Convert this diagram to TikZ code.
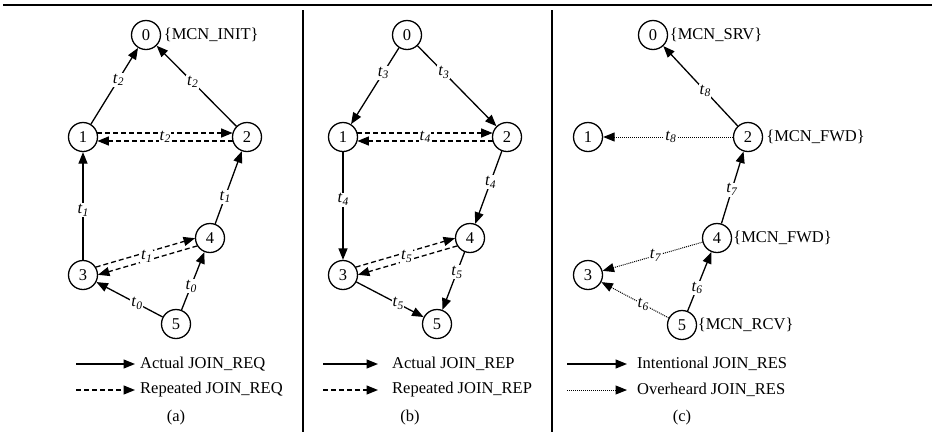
\documentclass[tikz,border=0pt]{standalone}
\usepackage{fontspec}
\setmainfont{Liberation Serif}
\usetikzlibrary{arrows.meta,calc}
\newcommand\tsub[1]{\textit{t}\raisebox{-0.35ex}{\fontsize{11.5}{11.5}\selectfont\textit{#1}}}
\newcommand\dpair[3]{%
  \draw[rep] ($(#1)!4pt!90:(#2)$) -- ($(#2)!4pt!-90:(#1)$);
  \draw[rep] ($(#2)!4pt!90:(#1)$) -- ($(#1)!4pt!-90:(#2)$);
  \node[tl] at ($(#1)!0.5!(#2)$) {\tsub{#3}};}
\begin{document}
\begin{tikzpicture}[x=1pt,y=-1pt,
  every node/.style={font=\fontsize{16.5}{18}\selectfont},
  nd/.style={circle,draw,line width=1.3pt,minimum size=29pt,inner sep=0pt},
  tip/.style={-{Triangle[length=11.5pt,width=9pt]}},
  act/.style={line width=1.3pt,tip},
  rep/.style={act,dash pattern=on 5pt off 3pt,shorten <=14.4pt,shorten >=14.4pt},
  ovh/.style={line width=1pt,tip,dash pattern=on 1pt off 1pt},
  tl/.style={fill=white,inner sep=1pt},
  lbl/.style={anchor=west,inner sep=0pt},
]
\useasboundingbox (0,0) rectangle (935,432);
% frame
\draw[line width=2.2pt] (3,5) coordinate (r1) -- (932,5) coordinate (r2);
\draw[line width=1.1pt] (303,10) coordinate (s1) -- (303,432) coordinate (s2);
\draw[line width=1.1pt] (552,10) coordinate (s3) -- (552,432) coordinate (s4);

% ---------- (a)
\node[nd] (a0) at (146,35) {0};
\node[nd] (a1) at (83,137) {1};
\node[nd] (a2) at (247,137) {2};
\node[nd] (a3) at (83,275) {3};
\node[nd] (a4) at (210,238) {4};
\node[nd] (a5) at (176,324) {5};
\node[lbl] (a0l) at ($(a0.east)+(2.5,0)$) {\{MCN\_INIT\}};
\draw[act] (a1) -- node[tl,pos=0.58]{\tsub{2}} (a0);
\draw[act] (a2) -- node[tl,pos=0.55]{\tsub{2}} (a0);
\dpair{a1}{a2}{2}
\draw[act] (a3) -- node[tl,pos=0.46]{\tsub{1}} (a1);
\draw[act] (a4) -- node[tl,pos=0.37]{\tsub{1}} (a2);
\dpair{a3}{a4}{1}
\draw[act] (a5) -- node[tl,pos=0.39]{\tsub{0}} (a3);
\draw[act] (a5) -- node[tl,pos=0.41]{\tsub{0}} (a4);
\coordinate (la1) at (76,364); \coordinate (la2) at (135,364);
\coordinate (la3) at (76,390); \coordinate (la4) at (135,390);
\draw[act] (la1) -- (la2);
\draw[act,dash pattern=on 5pt off 3pt] (la3) -- (la4);
\node[lbl] (lat1) at (140,364) {Actual JOIN\_REQ};
\node[lbl] (lat2) at (140,390) {Repeated JOIN\_REQ};
\node (capa) at (176,418) {(a)};

% ---------- (b)
\node[nd] (b0) at (407,35) {0};
\node[nd] (b1) at (343,137) {1};
\node[nd] (b2) at (507,137) {2};
\node[nd] (b3) at (343,275) {3};
\node[nd] (b4) at (470,238) {4};
\node[nd] (b5) at (437,324) {5};
\draw[act] (b0) -- node[tl,pos=0.33]{\tsub{3}} (b1);
\draw[act] (b0) -- node[tl,pos=0.33]{\tsub{3}} (b2);
\dpair{b1}{b2}{4}
\draw[act] (b1) -- node[tl,pos=0.44]{\tsub{4}} (b3);
\draw[act] (b2) -- node[tl,pos=0.43]{\tsub{4}} (b4);
\dpair{b3}{b4}{5}
\draw[act] (b4) -- node[tl,pos=0.35]{\tsub{5}} (b5);
\draw[act] (b3) -- node[tl,pos=0.62]{\tsub{5}} (b5);
\coordinate (lb1) at (323,364); \coordinate (lb2) at (378,364);
\coordinate (lb3) at (323,390); \coordinate (lb4) at (378,390);
\draw[act] (lb1) -- (lb2);
\draw[act,dash pattern=on 5pt off 3pt] (lb3) -- (lb4);
\node[lbl] (lbt1) at (392,364) {Actual JOIN\_REP};
\node[lbl] (lbt2) at (392,390) {Repeated JOIN\_REP};
\node (capb) at (410,418) {(b)};

% ---------- (c)
\node[nd] (c0) at (653,35) {0};
\node[nd] (c1) at (588,137) {1};
\node[nd] (c2) at (748,137) {2};
\node[nd] (c3) at (588,275) {3};
\node[nd] (c4) at (717,238) {4};
\node[nd] (c5) at (682,325) {5};
\node[lbl] (c0l) at ($(c0.east)+(1.5,0)$) {\{MCN\_SRV\}};
\node[lbl] (c2l) at ($(c2.east)+(3,0)$) {\{MCN\_FWD\}};
\node[lbl] (c4l) at ($(c4.east)+(1,0)$) {\{MCN\_FWD\}};
\node[lbl] (c5l) at ($(c5.east)+(0.5,0)$) {\{MCN\_RCV\}};
\draw[act] (c2) -- node[tl,pos=0.44]{\tsub{8}} (c0);
\draw[ovh] (c2) -- node[tl,pos=0.48]{\tsub{8}} (c1);
\draw[act] (c4) -- node[tl,pos=0.47]{\tsub{7}} (c2);
\draw[ovh] (c4) -- node[tl,pos=0.47]{\tsub{7}} (c3);
\draw[ovh] (c5) -- node[tl,pos=0.38]{\tsub{6}} (c3);
\draw[act] (c5) -- node[tl,pos=0.39]{\tsub{6}} (c4);
\coordinate (lc1) at (567,364); \coordinate (lc2) at (627,364);
\coordinate (lc3) at (567,390); \coordinate (lc4) at (627,390);
\draw[act] (lc1) -- (lc2);
\draw[ovh] (lc3) -- (lc4);
\node[lbl] (lct1) at (637,364) {Intentional JOIN\_RES};
\node[lbl] (lct2) at (637,390) {Overheard JOIN\_RES};
\node (capc) at (682,418) {(c)};
\end{tikzpicture}
\end{document}
